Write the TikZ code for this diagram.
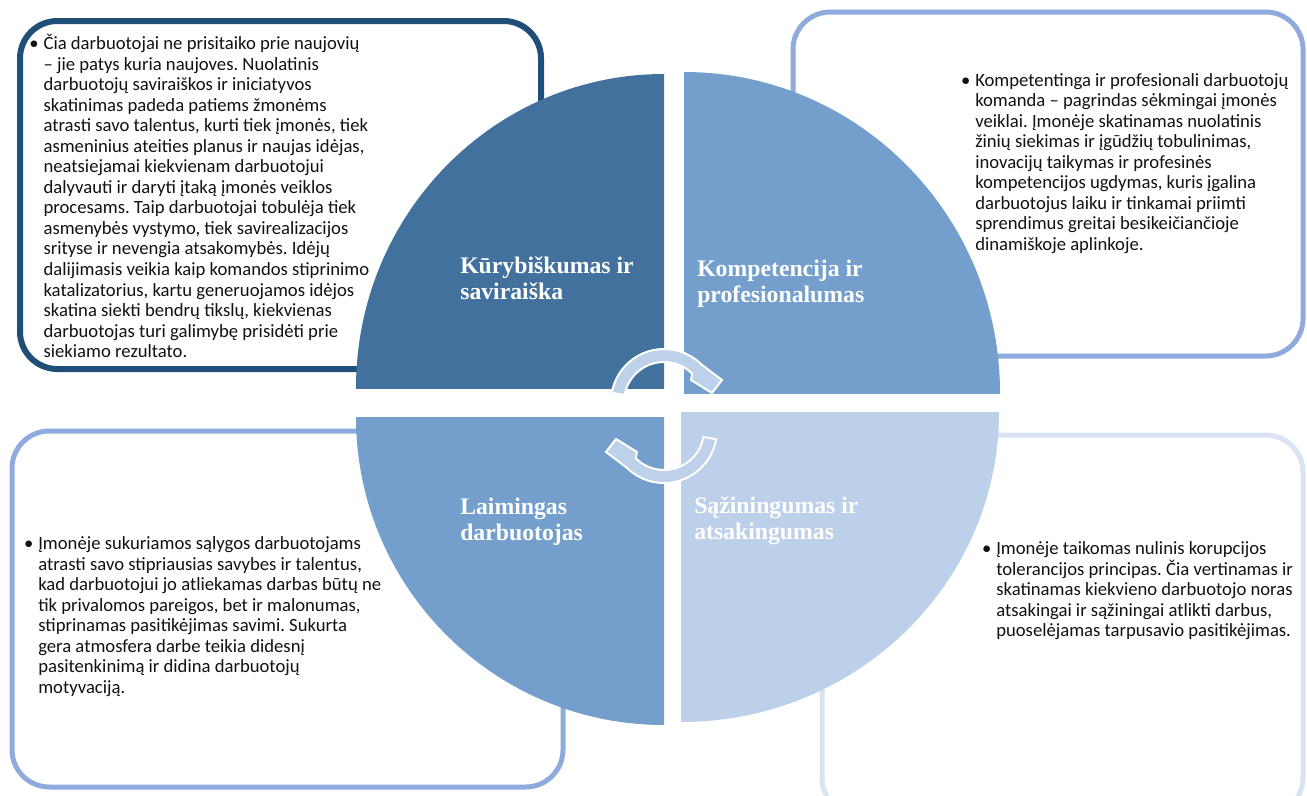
\documentclass[tikz,border=0pt]{standalone}
\usepackage{fontspec}
\setmainfont{Carlito}
\newfontfamily\titlefont{Liberation Serif}
\frenchspacing
\definecolor{tlq}{HTML}{42719D}
\definecolor{midq}{HTML}{749FCD}
\definecolor{brq}{HTML}{BCD0E9}
\definecolor{tlborder}{HTML}{1F4E79}
\definecolor{midborder}{HTML}{8FAADC}
\definecolor{lightborder}{HTML}{DAE3F3}
\definecolor{arrowfill}{HTML}{BDD1EA}
\definecolor{bodytext}{HTML}{111111}
\newcommand\bulitem{\rule{0pt}{12.5pt}\makebox[0pt][c]{•}\hspace*{7.2pt}}
\newcommand\indln{\hspace*{7.2pt}}
\newcommand\ttlstrut{\rule{0pt}{13pt}}
\tikzset{
  textbox/.style={rounded corners=28pt},
  body/.style={anchor=north west, inner sep=0pt, align=left, text=bodytext,
    font=\fontsize{14}{15.4}\selectfont\frenchspacing},
  ttl/.style={anchor=north west, inner sep=0pt, align=left, text=white,
    font=\titlefont\bfseries\fontsize{17.8}{19.5}\selectfont},
  arrowst/.style={fill=arrowfill, draw=white, line width=1.5pt, line join=miter},
  cycarrow/.pic={
    \filldraw[arrowst] (-170:53) arc[start angle=-170, end angle=-45, radius=53]
      -- (58,-22) -- (48,-9) -- (27,-22) -- (-45:40)
      arc[start angle=-45, end angle=-170, radius=40] -- cycle;
  }
}
\begin{document}
\begin{tikzpicture}[x=0.75pt,y=-0.75pt]
\useasboundingbox (0,0) rectangle (1307,796);
\clip (0,0) rectangle (1307,796);
% text boxes (behind the circle)
\draw[textbox, draw=tlborder, line width=4.5pt] (20,21) rectangle (541,369);
\draw[textbox, draw=midborder, line width=3.75pt] (793,12) rectangle (1303,356);
\draw[textbox, draw=midborder, line width=3.75pt] (12,431) rectangle (563,787);
\draw[textbox, draw=lightborder, line width=3.75pt] (822,435) rectangle (1303,815);
% quadrants
\begin{scope}
  \clip (664,388) rectangle (330,50);
  \fill[tlq] (664,388) ellipse [x radius=231pt, y radius=235.5pt];
\end{scope}
\begin{scope}
  \clip (684,393) rectangle (1030,50);
  \fill[midq] (684,393) ellipse [x radius=237pt, y radius=240.75pt];
\end{scope}
\begin{scope}
  \clip (664,417) rectangle (330,760);
  \fill[midq] (664,417) ellipse [x radius=231pt, y radius=231pt];
\end{scope}
\begin{scope}
  \clip (681,412) rectangle (1030,760);
  \fill[brq] (681,412) ellipse [x radius=238.5pt, y radius=232.5pt];
\end{scope}
% cycle arrows
\pic at (664,402) {cycarrow};
\pic[rotate=180] at (664,430) {cycarrow};
% titles
\node[ttl] (t1) at (460,255.7) {\ttlstrut Kūrybiškumas ir\\saviraiška};
\node[ttl] (t2) at (697,258.7) {\ttlstrut Kompetencija ir\\profesionalumas};
\node[ttl] (t3) at (460,497) {\ttlstrut Laimingas\\darbuotojas};
\node[ttl] (t4) at (694,495.7) {\ttlstrut Sąžiningumas ir\\atsakingumas};
% body texts
\node[body] (d1) at (33.7,32.7) {\bulitem Čia darbuotojai ne prisitaiko prie naujovių\\
\indln – jie patys kuria naujoves. Nuolatinis\\
\indln darbuotojų saviraiškos ir iniciatyvos\\
\indln skatinimas padeda patiems žmonėms\\
\indln atrasti savo talentus, kurti tiek įmonės, tiek\\
\indln asmeninius ateities planus ir naujas idėjas,\\
\indln neatsiejamai kiekvienam darbuotojui\\
\indln dalyvauti ir daryti įtaką įmonės veiklos\\
\indln procesams. Taip darbuotojai tobulėja tiek\\
\indln asmenybės vystymo, tiek savirealizacijos\\
\indln srityse ir nevengia atsakomybės. Idėjų\\
\indln dalijimasis veikia kaip komandos stiprinimo\\
\indln katalizatorius, kartu generuojamos idėjos\\
\indln skatina siekti bendrų tikslų, kiekvienas\\
\indln darbuotojas turi galimybę prisidėti prie\\
\indln siekiamo rezultato.};
\node[body] (d2) at (965.4,69.2) {\bulitem Kompetentinga ir profesionali darbuotojų\\
\indln komanda – pagrindas sėkmingai įmonės\\
\indln veiklai. Įmonėje skatinamas nuolatinis\\
\indln žinių siekimas ir įgūdžių tobulinimas,\\
\indln inovacijų taikymas ir profesinės\\
\indln kompetencijos ugdymas, kuris įgalina\\
\indln darbuotojus laiku ir tinkamai priimti\\
\indln sprendimus greitai besikeičiančioje\\
\indln dinamiškoje aplinkoje.};
\node[body] (d3) at (28.4,532.7) {\bulitem Įmonėje sukuriamos sąlygos darbuotojams\\
\indln atrasti savo stipriausias savybes ir talentus,\\
\indln kad darbuotojui jo atliekamas darbas būtų ne\\
\indln tik privalomos pareigos, bet ir malonumas,\\
\indln stiprinamas pasitikėjimas savimi. Sukurta\\
\indln gera atmosfera darbe teikia didesnį\\
\indln pasitenkinimą ir didina darbuotojų\\
\indln motyvaciją.};
\node[body] (d4) at (986.4,537.7) {\bulitem Įmonėje taikomas nulinis korupcijos\\
\indln tolerancijos principas. Čia vertinamas ir\\
\indln skatinamas kiekvieno darbuotojo noras\\
\indln atsakingai ir sąžiningai atlikti darbus,\\
\indln puoselėjamas tarpusavio pasitikėjimas.};
\end{tikzpicture}
\end{document}
